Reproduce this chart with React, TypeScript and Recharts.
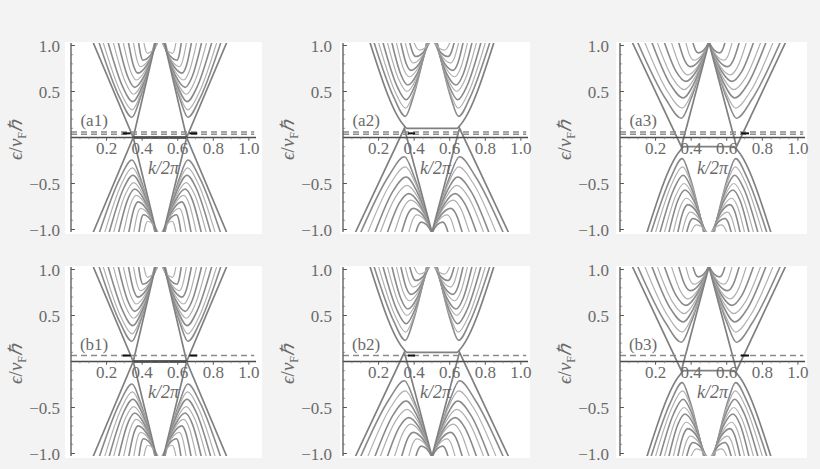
import { LineChart, Line, XAxis, YAxis, ReferenceLine, ReferenceDot } from "recharts";

type Pt = { k: number; e: number };
type Series = { pts: Pt[]; tone: number; linear?: boolean };

const FONT = "Liberation Serif";
const TEXT = "#6a6a6a";
const E_EDGE = 1.03;

const xTicks = [0.2, 0.4, 0.6, 0.8, 1.0];
const xMinor = [0.05, 0.1, 0.15, 0.25, 0.3, 0.35, 0.45, 0.5, 0.55, 0.65, 0.7, 0.75, 0.85, 0.9, 0.95];
const yTicks = [-1, -0.5, 0.5, 1];
const yMinor = [-0.9, -0.8, -0.7, -0.6, -0.4, -0.3, -0.2, -0.1, 0.1, 0.2, 0.3, 0.4, 0.6, 0.7, 0.8, 0.9];

// bands of the left valley, one row each:
// [k left arm leaves plot, k left at quarter height, k extremum, k right at quarter height, k right arm leaves, E extremum, E quarter height]
const a1Upper = [
  [0.158, 0.276, 0.342, 0.388, 0.47, 0.22, 0.4225],
  [0.181, 0.281, 0.344, 0.393, 0.472, 0.3, 0.4825],
  [0.209, 0.291, 0.347, 0.399, 0.474, 0.39, 0.55],
  [0.238, 0.304, 0.352, 0.405, 0.476, 0.47, 0.61],
  [0.266, 0.318, 0.358, 0.411, 0.478, 0.545, 0.666],
  [0.294, 0.334, 0.366, 0.417, 0.48, 0.625, 0.726],
  [0.323, 0.351, 0.376, 0.425, 0.482, 0.7, 0.7825],
  [0.351, 0.372, 0.39, 0.434, 0.484, 0.77, 0.835],
  [0.38, 0.393, 0.405, 0.444, 0.486, 0.84, 0.8875],
  [0.41, 0.42, 0.43, 0.458, 0.488, 0.915, 0.944],
];

const a1Lower = [
  [0.16, 0.276, 0.343, 0.39, 0.472, -0.245, -0.441],
  [0.19, 0.284, 0.345, 0.396, 0.474, -0.33, -0.505],
  [0.215, 0.293, 0.348, 0.401, 0.476, -0.41, -0.565],
  [0.24, 0.304, 0.352, 0.406, 0.477, -0.49, -0.625],
  [0.268, 0.318, 0.358, 0.411, 0.479, -0.56, -0.6775],
  [0.296, 0.334, 0.366, 0.418, 0.481, -0.63, -0.73],
  [0.325, 0.353, 0.377, 0.426, 0.483, -0.7, -0.7825],
  [0.353, 0.373, 0.391, 0.435, 0.485, -0.77, -0.835],
  [0.382, 0.395, 0.407, 0.445, 0.487, -0.84, -0.8875],
  [0.41, 0.421, 0.432, 0.46, 0.489, -0.91, -0.94],
];

const a2Upper = [
  [0.175, 0.287, 0.35, 0.393, 0.47, 0.23, 0.43],
  [0.2, 0.293, 0.352, 0.399, 0.472, 0.32, 0.4975],
  [0.225, 0.302, 0.355, 0.404, 0.474, 0.41, 0.565],
  [0.25, 0.313, 0.36, 0.41, 0.476, 0.5, 0.6325],
  [0.275, 0.325, 0.365, 0.415, 0.478, 0.57, 0.685],
  [0.3, 0.339, 0.372, 0.421, 0.48, 0.66, 0.7525],
  [0.325, 0.355, 0.382, 0.429, 0.482, 0.73, 0.805],
  [0.35, 0.374, 0.395, 0.437, 0.484, 0.81, 0.865],
  [0.375, 0.393, 0.41, 0.447, 0.486, 0.88, 0.9175],
  [0.4, 0.415, 0.43, 0.459, 0.488, 0.95, 0.97],
];

const a2Lower = [
  [0.1, 0.258, 0.345, 0.398, 0.495, -0.21, -0.415],
  [0.14, 0.268, 0.35, 0.407, 0.496, -0.32, -0.4975],
  [0.18, 0.282, 0.355, 0.414, 0.497, -0.43, -0.58],
  [0.21, 0.295, 0.36, 0.42, 0.498, -0.52, -0.6475],
  [0.25, 0.316, 0.37, 0.427, 0.498, -0.61, -0.715],
  [0.29, 0.339, 0.38, 0.435, 0.499, -0.68, -0.7675],
  [0.33, 0.364, 0.395, 0.445, 0.5, -0.77, -0.835],
  [0.37, 0.393, 0.415, 0.456, 0.5, -0.84, -0.8875],
  [0.41, 0.425, 0.44, 0.469, 0.5, -0.92, -0.9475],
];

// lines through the Dirac points / edge bands, [k, E]
const a1Cones = [
  [[0.125, 1.03], [0.35, 0], [0.475, 1.03]],
  [[0.125, -1.03], [0.35, 0], [0.48, -1.03]],
];
const a1Flat = [[0.35, 0], [0.65, 0]];
const a2Edge = [[0.152, 1.03], [0.335, 0.15], [0.36, 0.1], [0.64, 0.1], [0.665, 0.15], [0.848, 1.03]];
const a2Cones = [[[0.07, -1.03], [0.345, 0.1], [0.5, -1.03]]];

// Fermi-level markers
const dashedA = [0.06, 0.035];
const dashedB = [0.065];
const blackSegs: Record<number, number[][]> = {
  1: [[0.29, 0.335], [0.665, 0.71]],
  2: [[0.365, 0.405]],
  3: [[0.68, 0.725]],
};

const panels = [
  { label: "(a1)", col: 0, row: 0, kind: 1 },
  { label: "(a2)", col: 1, row: 0, kind: 2 },
  { label: "(a3)", col: 2, row: 0, kind: 3 },
  { label: "(b1)", col: 0, row: 1, kind: 1 },
  { label: "(b2)", col: 1, row: 1, kind: 2 },
  { label: "(b3)", col: 2, row: 1, kind: 3 },
];

const PLOT_LEFT = [71, 343, 619.5];
const PLOT_TOP = [43, 267];
const PLOT_W = 185;
const PLOT_H = 189;
const Y_W = 60;
const PAD = 10;
const RIGHT = 16;
const WHITE_X = [[65, 262], [340, 530], [616, 807]];

const asPts = (arr: number[][]): Pt[] => arr.map(([k, e]) => ({ k, e }));
const bandPts = (r: number[], edge: number): Pt[] => [
  { k: r[0], e: edge },
  { k: r[1], e: r[6] },
  { k: r[2], e: r[5] },
  { k: r[3], e: r[6] },
  { k: r[4], e: edge },
];
const mirror = (pts: Pt[]): Pt[] => pts.map((p) => ({ k: 1 - p.k, e: p.e })).reverse();
const flip = (pts: Pt[]): Pt[] => pts.map((p) => ({ k: p.k, e: -p.e }));

function valleys(rows: number[][], edge: number): Series[] {
  const out: Series[] = [];
  rows.forEach((r, i) => {
    const left = bandPts(r, edge);
    out.push({ pts: left, tone: i % 2 }, { pts: mirror(left), tone: i % 2 });
  });
  return out;
}

function seriesFor(kind: number): Series[] {
  if (kind === 1) {
    const cones = a1Cones.flatMap((c) => [asPts(c), mirror(asPts(c))]);
    return [
      ...valleys(a1Upper, E_EDGE),
      ...valleys(a1Lower, -E_EDGE),
      ...cones.map((pts) => ({ pts, tone: 2, linear: true })),
      { pts: asPts(a1Flat), tone: 3, linear: true },
    ];
  }
  const base: Series[] = [
    ...valleys(a2Upper, E_EDGE),
    ...valleys(a2Lower, -E_EDGE),
    ...a2Cones.flatMap((c) => [asPts(c), mirror(asPts(c))]).map((pts) => ({ pts, tone: 2, linear: true })),
    { pts: asPts(a2Edge), tone: 2 },
  ];
  if (kind === 2) return base;
  return base.map((s) => ({ ...s, pts: flip(s.pts) }));
}

const TONES = [
  { stroke: "#8a8a8a", width: 1.6 },
  { stroke: "#b0b0b0", width: 1.2 },
  { stroke: "#808080", width: 1.7 },
  { stroke: "#3a3a3a", width: 2.4 },
];

const fmt = (v: number) => (v < 0 ? "\u2212" + Math.abs(v).toFixed(1) : v.toFixed(1));
const textStyle = { fontFamily: FONT };

function Panel({ label, col, row, kind }: { label: string; col: number; row: number; kind: number }) {
  const series = seriesFor(kind);
  const dashed = row === 0 ? dashedA : dashedB;
  const blackE = row === 0 ? 0.045 : 0.065;
  return (
    <div style={{ position: "absolute", left: PLOT_LEFT[col] - Y_W, top: PLOT_TOP[row] - PAD }}>
      <LineChart
        width={Y_W + PLOT_W + RIGHT}
        height={PLOT_H + 2 * PAD}
        margin={{ top: PAD, right: RIGHT, bottom: PAD, left: 0 }}
      >
        <XAxis type="number" dataKey="k" domain={[0, 1.04]} hide allowDataOverflow />
        <YAxis
          type="number"
          domain={[-1.027, 1.027]}
          allowDataOverflow
          ticks={yTicks}
          tickFormatter={fmt}
          tick={{ fill: TEXT, fontSize: 17, style: textStyle }}
          tickLine={false}
          tickMargin={5}
          axisLine={{ stroke: "#555", strokeWidth: 1.3 }}
          width={Y_W}
        />
        {series.map((s, i) => (
          <Line
            key={i}
            data={s.pts}
            dataKey="e"
            type={s.linear ? "linear" : "monotone"}
            stroke={TONES[s.tone].stroke}
            strokeWidth={TONES[s.tone].width}
            dot={false}
            activeDot={false}
            isAnimationActive={false}
          />
        ))}
        <ReferenceLine y={0} stroke="#4a4a4a" strokeWidth={1.4} />
        {dashed.map((e) => (
          <ReferenceLine
            key={e}
            segment={[{ x: 0, y: e }, { x: 1.03, y: e }]}
            stroke="#8a8a8a"
            strokeWidth={1.5}
            strokeDasharray="6 4"
          />
        ))}
        {blackSegs[kind].map(([k1, k2]) => (
          <ReferenceLine key={k1} segment={[{ x: k1, y: blackE }, { x: k2, y: blackE }]} stroke="#111" strokeWidth={2} />
        ))}
        {yTicks.map((v) => (
          <ReferenceLine key={"yt" + v} segment={[{ x: 0, y: v }, { x: 0.022, y: v }]} stroke="#555" strokeWidth={1} />
        ))}
        {yMinor.map((v) => (
          <ReferenceLine key={"ym" + v} segment={[{ x: 0, y: v }, { x: 0.012, y: v }]} stroke="#888" strokeWidth={0.8} />
        ))}
        {xTicks.map((t) => (
          <ReferenceLine key={"xt" + t} segment={[{ x: t, y: 0 }, { x: t, y: -0.035 }]} stroke="#555" strokeWidth={1} />
        ))}
        {xMinor.map((t) => (
          <ReferenceLine key={"xm" + t} segment={[{ x: t, y: 0 }, { x: t, y: -0.02 }]} stroke="#888" strokeWidth={0.8} />
        ))}
        {xTicks.map((t) => (
          <ReferenceDot
            key={"xl" + t}
            x={t}
            y={-0.115}
            r={0}
            fill="none"
            stroke="none"
            label={{ value: t.toFixed(1), position: "center", fill: TEXT, fontSize: 17, style: textStyle }}
          />
        ))}
        <ReferenceDot
          x={0.52}
          y={-0.33}
          r={0}
          fill="none"
          stroke="none"
          label={{ value: "k/2\u03c0", position: "center", fill: TEXT, fontSize: 18, style: { ...textStyle, fontStyle: "italic" } }}
        />
        <ReferenceDot
          x={0.13}
          y={0.19}
          r={0}
          fill="none"
          stroke="none"
          label={{ value: label, position: "center", fill: TEXT, fontSize: 17, style: textStyle }}
        />
      </LineChart>
    </div>
  );
}

function YTitle({ x, cy }: { x: number; cy: number }) {
  return (
    <svg style={{ position: "absolute", left: x - 15, top: cy - 50 }} width={30} height={100}>
      <text transform="translate(21,50) rotate(-90)" textAnchor="middle" style={{ fontFamily: FONT }} fontSize={19} fill={TEXT}>
        <tspan fontStyle="italic">{"\u03f5"}</tspan>/<tspan fontStyle="italic">v</tspan>
        <tspan fontSize={12} dy={4}>F</tspan>
        <tspan dy={-4} fontStyle="italic">{"\u210f"}</tspan>
      </text>
    </svg>
  );
}

export default function App() {
  return (
    <div style={{ position: "absolute", left: 0, top: 0, width: 820, height: 469, background: "#f3f3f3", overflow: "hidden" }}>
      {panels.map((p) => (
        <div
          key={"bg" + p.label}
          style={{
            position: "absolute",
            left: WHITE_X[p.col][0],
            width: WHITE_X[p.col][1] - WHITE_X[p.col][0],
            top: PLOT_TOP[p.row] - 1,
            height: 192,
            background: "#fff",
          }}
        />
      ))}
      {panels.map((p) => (
        <YTitle key={"yt" + p.label} x={PLOT_LEFT[p.col] - 55} cy={PLOT_TOP[p.row] + 97} />
      ))}
      {panels.map((p) => (
        <Panel key={p.label} {...p} />
      ))}
    </div>
  );
}
